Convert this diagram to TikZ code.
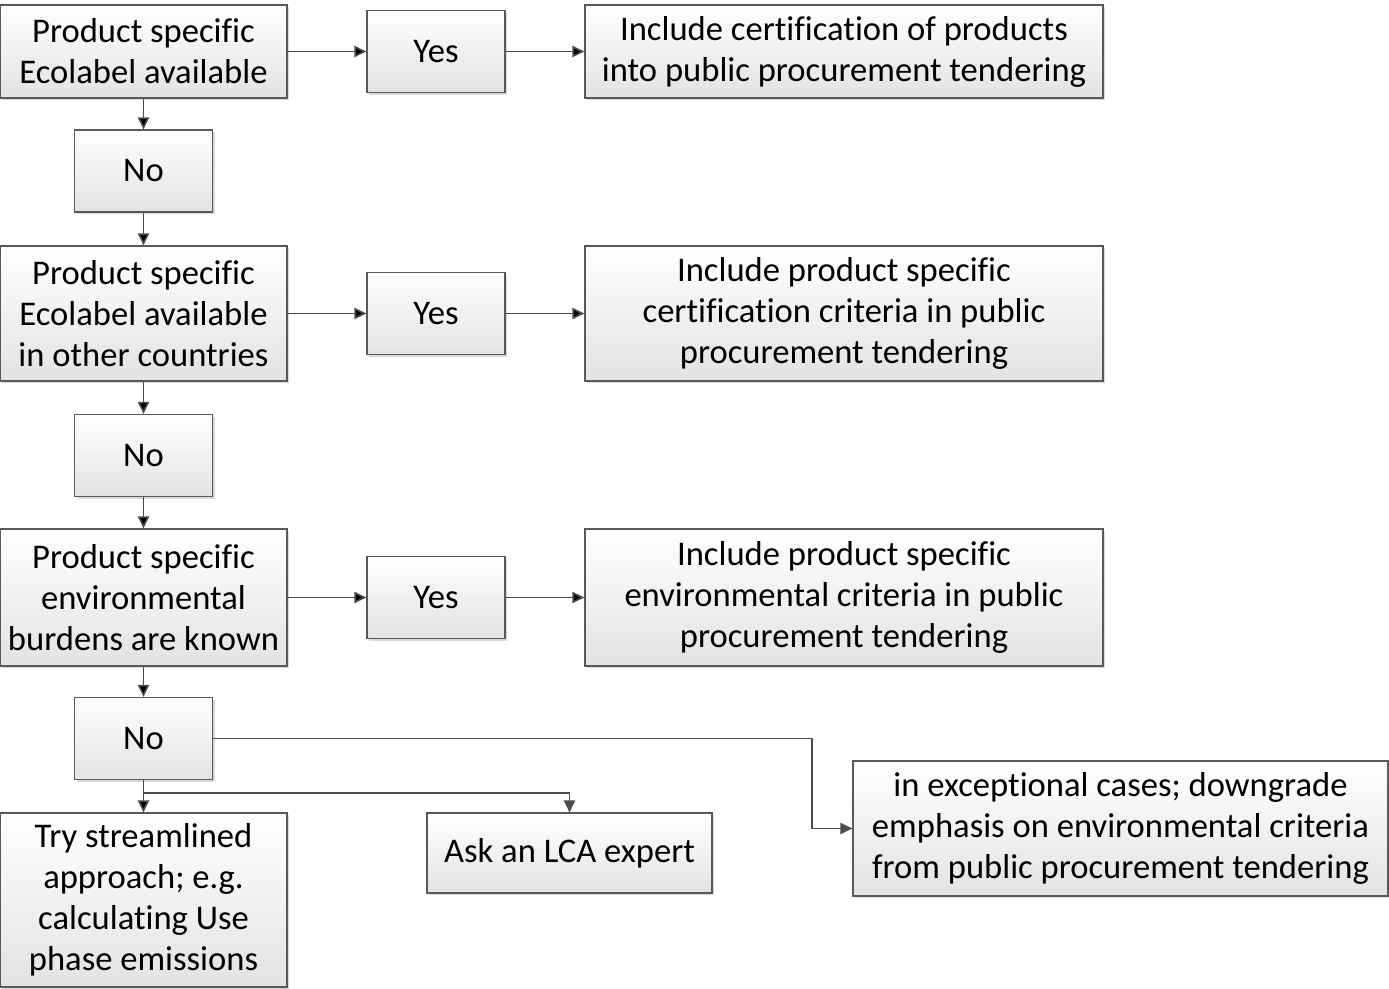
\documentclass[tikz,border=0pt]{standalone}
\usepackage{fontspec}
\setmainfont{Carlito}[Ligatures=NoCommon]
\usetikzlibrary{positioning,arrows.meta,shadows}

\tikzset{
  box/.style={draw=black!65, line width=0.6pt, top color=white, bottom color=black!11,
    align=center, inner sep=0pt, font=\fontsize{17.3}{20.5}\selectfont,
    drop shadow={shadow xshift=1.2pt, shadow yshift=-1.2pt, opacity=0.3}},
  askbox/.style={box, minimum width=143.5pt},
  ansbox/.style={box, minimum width=69pt, minimum height=41pt},
  resbox/.style={box, minimum width=259pt},
  arr/.style={draw=black!70, line width=0.8pt, -{Triangle[length=6pt,width=5.6pt]}}
}

\begin{document}
\begin{tikzpicture}[x=0.5pt,y=-0.5pt,on grid]
	\useasboundingbox (0,0) rectangle (1389,989);
	% question column
	\node[askbox, minimum height=46.5pt] (ask1) at (143.5,51.5) {Product specific\\Ecolabel available};
	\node[ansbox] (no1) [below=59.75pt of ask1] {No};
	\node[askbox, minimum height=67.5pt] (ask2) [below=71.25pt of no1] {Product specific\\Ecolabel available\\in other countries};
	\node[ansbox] (no2) [below=71pt of ask2] {No};
	\node[askbox, minimum height=68.5pt] (ask3) [below=71pt of no2] {Product specific\\environmental\\burdens are known};
	\node[ansbox] (no3) [below=70.5pt of ask3] {No};
	% yes branch
	\node[ansbox] (yes1) [right=146.25pt of ask1] {Yes};
	\node[resbox, minimum height=46.5pt] (res1) [right=204pt of yes1] {Include certification of products\\into public procurement tendering};
	\node[ansbox] (yes2) [right=146.25pt of ask2] {Yes};
	\node[resbox, minimum height=67.5pt] (res2) [right=204pt of yes2] {Include product specific\\certification criteria in public\\procurement tendering};
	\node[ansbox] (yes3) [right=146.25pt of ask3] {Yes};
	\node[resbox, minimum height=68.5pt] (res3) [right=204pt of yes3] {Include product specific\\environmental criteria in public\\procurement tendering};
	% last row
	\node[askbox, minimum height=87pt] (try) [below=80.75pt of no3] {Try streamlined\\approach; e.g.\\calculating Use\\phase emissions};
	\node[box, minimum width=142.5pt, minimum height=40pt] (lca) at (569.5,853) {Ask an LCA expert};
	\node[box, minimum width=267.5pt, minimum height=67.5pt] (exc) at (1120.5,828.5) {in exceptional cases; downgrade\\emphasis on environmental criteria\\from public procurement tendering};
	\coordinate (fork) at (143.5,793);
	\coordinate (elbow) at (812,739);

	\path[arr]
	(ask1) edge (yes1) (yes1) edge (res1)
	(ask2) edge (yes2) (yes2) edge (res2)
	(ask3) edge (yes3) (yes3) edge (res3)
	(ask1) edge (no1) (no1) edge (ask2)
	(ask2) edge (no2) (no2) edge (ask3)
	(ask3) edge (no3) (no3) edge (try);
	\draw[arr] (fork) -| (lca);
	\draw[arr] (no3.east) -- (no3.east -| elbow) |- (exc.west);
\end{tikzpicture}
\end{document}
